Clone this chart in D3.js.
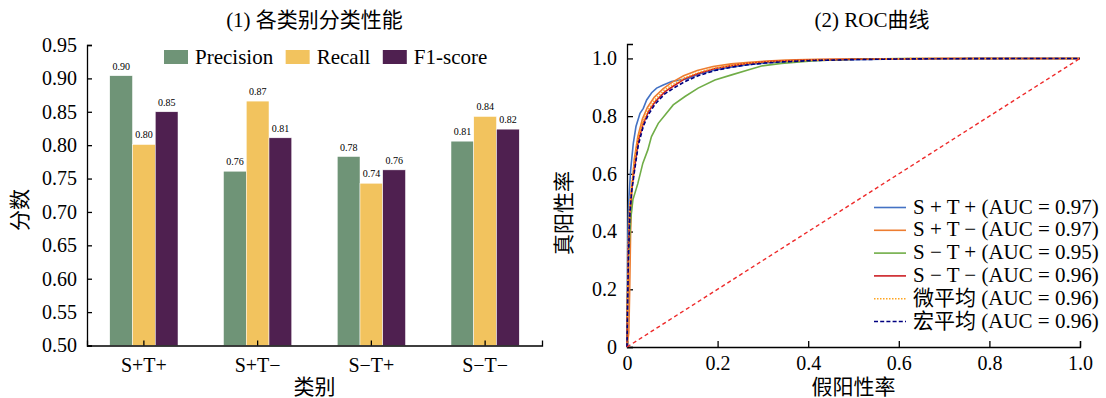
<!DOCTYPE html>
<meta charset="utf-8">
<script src="https://d3js.org/d3.v7.min.js"></script>
<style>
  body { margin: 0; background: #fff; }
  svg text { font-family: "Liberation Serif", "Times New Roman", "Noto Sans CJK SC", serif; fill: #000; }
  .axis path, .axis line { stroke: #000; stroke-width: 1.3; }
</style>
<div id="chart"></div>
<script>
// ---- left panel data: per-class scores
const categories = ["S+T+", "S+T\u2212", "S\u2212T+", "S\u2212T\u2212"];
const metrics = ["Precision", "Recall", "F1-score"];
const precision = [0.904, 0.761, 0.783, 0.806];
const recall = [0.801, 0.866, 0.743, 0.843];
const f1score = [0.850, 0.811, 0.763, 0.824];
const scoreTicks = [0.50, 0.55, 0.60, 0.65, 0.70, 0.75, 0.80, 0.85, 0.90, 0.95];
const barColors = ["#6f9477", "#f2c35e", "#4f2050"];

// ---- right panel data: ROC curves (fpr / tpr)
const rocNames = ["S + T + ", "S + T \u2212 ", "S \u2212 T + ", "S \u2212 T \u2212 ", "微平均 ", "宏平均 "];
const rocAuc = [0.97, 0.97, 0.95, 0.96, 0.96, 0.96];
const rateTicks = [0, 0.2, 0.4, 0.6, 0.8, 1.0];

const fprSTpos = [0, 0.001, 0.002, 0.004, 0.008, 0.0139, 0.0198, 0.0287, 0.036, 0.0434, 0.0544, 0.0654, 0.080, 0.0985, 0.117, 0.135, 0.157, 0.194, 0.231, 0.267, 0.304, 0.341, 0.415, 0.5, 0.6, 0.7, 0.8, 1.0];
const tprSTpos = [0, 0.2, 0.4, 0.51, 0.613, 0.706, 0.764, 0.81, 0.827, 0.856, 0.881, 0.897, 0.908, 0.92, 0.925, 0.93, 0.945, 0.96, 0.97, 0.978, 0.984, 0.988, 0.993, 0.996, 0.998, 0.999, 1.0, 1.0];

const fprSTneg = [0, 0.004, 0.006, 0.008, 0.011, 0.016, 0.024, 0.034, 0.045, 0.06, 0.08, 0.10, 0.125, 0.155, 0.19, 0.23, 0.27, 0.31, 0.35, 0.42, 0.5, 0.6, 0.7, 1.0];
const tprSTneg = [0, 0.05, 0.2, 0.4, 0.55, 0.65, 0.73, 0.79, 0.83, 0.865, 0.895, 0.918, 0.94, 0.958, 0.972, 0.981, 0.987, 0.991, 0.994, 0.997, 0.998, 0.999, 1.0, 1.0];

const fprSnegTpos = [0, 0.001, 0.003, 0.008, 0.013, 0.024, 0.035, 0.046, 0.054, 0.069, 0.084, 0.102, 0.128, 0.157, 0.194, 0.231, 0.267, 0.297, 0.341, 0.415, 0.5, 0.6, 1.0];
const tprSnegTpos = [0, 0.15, 0.3, 0.44, 0.51, 0.567, 0.637, 0.683, 0.729, 0.775, 0.804, 0.839, 0.868, 0.897, 0.925, 0.943, 0.96, 0.974, 0.983, 0.992, 0.997, 1.0, 1.0];

const fprSnegTneg = [0, 0.001, 0.003, 0.006, 0.01, 0.017, 0.025, 0.036, 0.047, 0.062, 0.084, 0.106, 0.128, 0.157, 0.194, 0.231, 0.267, 0.304, 0.341, 0.415, 0.5, 0.6, 0.7, 1.0];
const tprSnegTneg = [0, 0.15, 0.34, 0.47, 0.545, 0.625, 0.715, 0.775, 0.815, 0.85, 0.885, 0.908, 0.93, 0.948, 0.965, 0.975, 0.983, 0.988, 0.991, 0.995, 0.997, 0.999, 1.0, 1.0];

const fprMicro = [0, 0.001, 0.003, 0.006, 0.01, 0.016, 0.024, 0.035, 0.046, 0.061, 0.082, 0.104, 0.127, 0.155, 0.19, 0.23, 0.27, 0.31, 0.35, 0.42, 0.5, 0.6, 0.7, 1.0];
const tprMicro = [0, 0.17, 0.36, 0.49, 0.56, 0.635, 0.72, 0.78, 0.82, 0.855, 0.89, 0.912, 0.933, 0.95, 0.966, 0.976, 0.984, 0.988, 0.991, 0.995, 0.997, 0.999, 1.0, 1.0];

const fprMacro = [0, 0.001, 0.003, 0.006, 0.01, 0.017, 0.025, 0.036, 0.047, 0.062, 0.084, 0.106, 0.128, 0.157, 0.194, 0.231, 0.267, 0.304, 0.341, 0.415, 0.5, 0.6, 0.7, 1.0];
const tprMacro = [0, 0.12, 0.3, 0.45, 0.535, 0.615, 0.7, 0.765, 0.805, 0.842, 0.878, 0.9, 0.92, 0.94, 0.958, 0.97, 0.978, 0.984, 0.988, 0.993, 0.996, 0.998, 0.999, 1.0];

const rocFpr = [fprSTpos, fprSTneg, fprSnegTpos, fprSnegTneg, fprMicro, fprMacro];
const rocTpr = [tprSTpos, tprSTneg, tprSnegTpos, tprSnegTneg, tprMicro, tprMacro];
const rocColors = ["#4472c4", "#ed7d31", "#70ad47", "#cc1f24", "#ffa520", "#000080"];
const rocDash = [null, null, null, null, "1.5,1.5", "4,2.2"];

const svg = d3.select("#chart").append("svg")
    .attr("width", 1106)
    .attr("height", 398);

// ================= (1) grouped bars =================
const x0 = d3.scaleBand().domain(categories).range([87, 542]).padding(0);
const x1 = d3.scaleBand().domain(metrics).range([0, x0.bandwidth() * 0.6]);
const y = d3.scaleLinear().domain([0.5, 0.95]).range([345.5, 45]);

const left = svg.append("g");

const rows = categories.map((c, i) => ({cat: c, vals: [precision[i], recall[i], f1score[i]]}));

const groups = left.selectAll(".grp")
    .data(rows)
    .join("g")
    .attr("transform", d => `translate(${x0(d.cat) + x0.bandwidth() * 0.2},0)`);

groups.selectAll("rect")
    .data(d => d.vals.map((v, j) => ({m: metrics[j], v: v, j: j})))
    .join("rect")
    .attr("x", d => x1(d.m))
    .attr("y", d => y(d.v))
    .attr("width", x1.bandwidth())
    .attr("height", d => y(0.5) - y(d.v))
    .attr("fill", d => barColors[d.j])
    .attr("stroke", "#fff")
    .attr("stroke-width", 0.5);

groups.selectAll("text")
    .data(d => d.vals.map((v, j) => ({m: metrics[j], v: v})))
    .join("text")
    .attr("x", d => x1(d.m) + x1.bandwidth() / 2)
    .attr("y", d => y(d.v) - 6)
    .attr("text-anchor", "middle")
    .style("font-size", "10px")
    .text(d => d.v.toFixed(2));

left.append("g")
    .attr("class", "axis")
    .attr("transform", "translate(0,345.5)")
    .call(d3.axisBottom(x0).tickSizeInner(-5).tickSizeOuter(-5).tickPadding(12))
    .selectAll("text").style("font-size", "20px");

left.append("g")
    .attr("class", "axis")
    .attr("transform", "translate(87,0)")
    .call(d3.axisLeft(y).tickValues(scoreTicks).tickFormat(d3.format(".2f"))
        .tickSizeInner(-5).tickSizeOuter(-5).tickPadding(10))
    .selectAll("text").style("font-size", "20px");

left.append("text")
    .attr("x", 314.5).attr("y", 27)
    .attr("text-anchor", "middle")
    .style("font-size", "21px")
    .text("(1) 各类别分类性能");

left.append("text")
    .attr("x", 314.5).attr("y", 394)
    .attr("text-anchor", "middle")
    .style("font-size", "21px")
    .text("类别");

left.append("text")
    .attr("transform", "translate(27,210) rotate(-90)")
    .attr("text-anchor", "middle")
    .style("font-size", "21px")
    .text("分数");

// legend across the top
let lx = 164;
metrics.forEach((m, j) => {
    left.append("rect")
        .attr("x", lx).attr("y", 50)
        .attr("width", 24).attr("height", 14)
        .attr("fill", barColors[j]);
    const t = left.append("text")
        .attr("x", lx + 31).attr("y", 64)
        .style("font-size", "21px")
        .text(m);
    lx += 31 + t.node().getComputedTextLength() + 12.5;
});

// ================= (2) ROC =================
const xr = d3.scaleLinear().domain([0, 1]).range([627, 1080]);
const yr = d3.scaleLinear().domain([0, 1.05]).range([347, 44]);
const rateFmt = d => d === 0 ? "0" : d.toFixed(1);

const right = svg.append("g");

right.append("g")
    .attr("class", "axis")
    .attr("transform", "translate(0,347)")
    .call(d3.axisBottom(xr).tickValues(rateTicks).tickFormat(rateFmt)
        .tickSizeInner(-6).tickSizeOuter(-6).tickPadding(9))
    .selectAll("text").style("font-size", "20px");

right.append("g")
    .attr("class", "axis")
    .attr("transform", "translate(627,0)")
    .call(d3.axisLeft(yr).tickValues(rateTicks).tickFormat(rateFmt)
        .tickSizeInner(-6).tickSizeOuter(-6).tickPadding(10))
    .selectAll("text").style("font-size", "20px");

const line = d3.line().x(d => xr(d[0])).y(d => yr(d[1]));

rocFpr.forEach((fpr, i) => {
    right.append("path")
        .datum(fpr.map((f, k) => [f, rocTpr[i][k]]))
        .attr("d", line)
        .attr("fill", "none")
        .attr("stroke", rocColors[i])
        .attr("stroke-width", 1.6)
        .attr("stroke-dasharray", rocDash[i]);
});

// chance diagonal
right.append("path")
    .datum([[0, 0], [1, 1]])
    .attr("d", line)
    .attr("fill", "none")
    .attr("stroke", "#ee2a2a")
    .attr("stroke-width", 1.4)
    .attr("stroke-dasharray", "4,3");

right.append("text")
    .attr("x", 872).attr("y", 27)
    .attr("text-anchor", "middle")
    .style("font-size", "21px")
    .text("(2) ROC曲线");

right.append("text")
    .attr("x", 853.5).attr("y", 394)
    .attr("text-anchor", "middle")
    .style("font-size", "21px")
    .text("假阳性率");

right.append("text")
    .attr("transform", "translate(571,213) rotate(-90)")
    .attr("text-anchor", "middle")
    .style("font-size", "21px")
    .text("真阳性率");

// legend, lower right
rocNames.forEach((n, i) => {
    const base = 213.5 + i * 22.8;
    right.append("line")
        .attr("x1", 874).attr("x2", 906)
        .attr("y1", base - 6).attr("y2", base - 6)
        .attr("stroke", rocColors[i])
        .attr("stroke-width", 1.6)
        .attr("stroke-dasharray", rocDash[i]);
    right.append("text")
        .attr("x", 913).attr("y", base)
        .style("font-size", "21px")
        .text(n + "(AUC = " + rocAuc[i].toFixed(2) + ")");
});
</script>
